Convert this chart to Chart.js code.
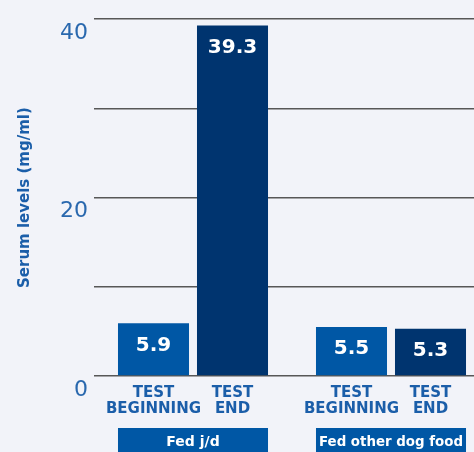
<!DOCTYPE html>
<html>
<head>
<meta charset="utf-8">
<script src="https://cdn.jsdelivr.net/npm/chart.js@4"></script>
<style>
  html, body { margin: 0; padding: 0; background: #f2f3f9; overflow: hidden; }
  #wrap { width: 490px; height: 452px; }
</style>
</head>
<body>
<div id="wrap"><canvas id="chart"></canvas></div>
<script>
// groups along the x axis
const groups = ['Fed j/d', 'Fed other dog food'];
// the two measurements in every group
const seriesNames = [['TEST', 'BEGINNING'], ['TEST', 'END']];
const testBeginning = [5.9, 5.5];
const testEnd = [39.3, 5.3];
// labelled y ticks (grid every 10)
const yLabels = [0, 20, 40];

const lightBlue = '#0057a5';
const darkBlue = '#00346f';
const textBlue = '#1b5ea9';

const barText = {
  id: 'barText',
  afterDatasetsDraw(chart) {
    const ctx = chart.ctx;
    const area = chart.chartArea;
    const m0 = chart.getDatasetMeta(0), m1 = chart.getDatasetMeta(1);
    ctx.save();
    ctx.textAlign = 'center';
    ctx.textBaseline = 'middle';

    // group boxes under the pairs of bars
    groups.forEach((g, i) => {
      const a = m0.data[i], b = m1.data[i];
      const left = a.x - a.width / 2;
      const right = b.x + b.width / 2;
      ctx.fillStyle = lightBlue;
      ctx.fillRect(left, area.bottom + 52, right - left, chart.height);
      ctx.fillStyle = '#ffffff';
      ctx.font = 'bold 14px "DejaVu Sans"';
      ctx.fillText(g, (left + right) / 2, area.bottom + 66, right - left - 6);
    });

    chart.data.datasets.forEach((ds, di) => {
      chart.getDatasetMeta(di).data.forEach((bar, i) => {
        ctx.fillStyle = '#ffffff';
        ctx.font = 'bold 20px "DejaVu Sans"';
        ctx.fillText(ds.data[i].toFixed(1), bar.x, bar.y + 22);
        ctx.fillStyle = textBlue;
        ctx.font = 'bold 15px "DejaVu Sans"';
        seriesNames[di].forEach((line, k) => {
          ctx.fillText(line, bar.x, area.bottom + 17 + k * 16);
        });
      });
    });
    ctx.restore();
  }
};

new Chart(document.getElementById('chart'), {
  type: 'bar',
  data: {
    labels: groups,
    datasets: [
      { label: seriesNames[0].join(' '), data: testBeginning, backgroundColor: lightBlue },
      { label: seriesNames[1].join(' '), data: testEnd, backgroundColor: darkBlue }
    ]
  },
  options: {
    responsive: true,
    maintainAspectRatio: false,
    animation: false,
    categoryPercentage: 0.798,
    barPercentage: 0.899,
    layout: { padding: { top: 19, left: 16, right: 0, bottom: 68 } },
    plugins: {
      legend: { display: false },
      tooltip: { enabled: false }
    },
    scales: {
      x: {
        grid: { display: false },
        border: { display: false },
        ticks: { display: false }
      },
      y: {
        min: 0,
        max: 40,
        afterFit(scale) { scale.width = 78; },
        border: { display: false },
        grid: { color: '#575757', lineWidth: 1.5, drawTicks: false },
        ticks: {
          stepSize: 10,
          padding: 6,
          labelOffset: 14,
          color: '#2a68ae',
          font: { family: 'DejaVu Sans', size: 22 },
          callback: v => yLabels.includes(v) ? v : ''
        },
        title: {
          display: true,
          text: 'Serum levels (mg/ml)',
          color: textBlue,
          font: { family: 'DejaVu Sans', size: 15, weight: 'bold' },
          padding: { top: 0, bottom: 26 }
        }
      }
    }
  },
  plugins: [barText]
});
</script>
</body>
</html>
